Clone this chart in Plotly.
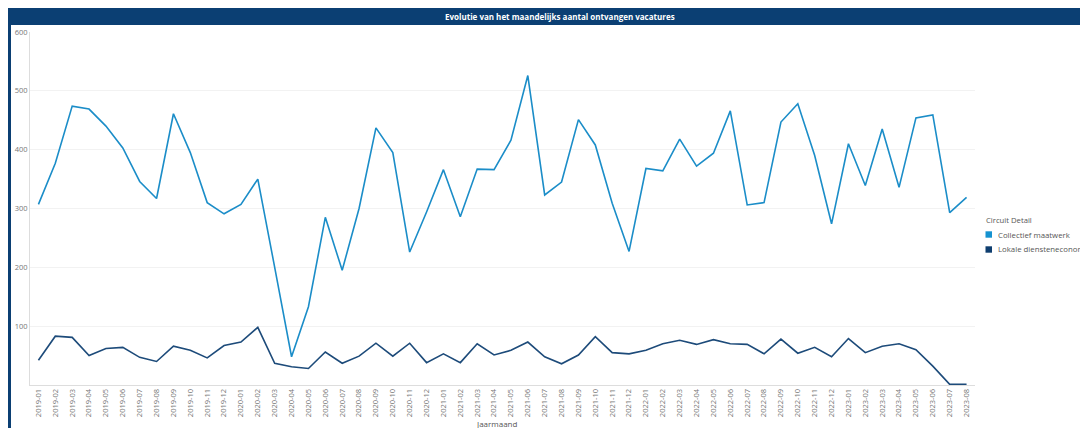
import plotly.graph_objects as go

months = [f"{y}-{m:02d}" for y in range(2019, 2024) for m in range(1, 13)][:56]

collectief = [307, 377, 474, 469, 440, 403, 346, 317, 461, 395, 310, 291,
              307, 350, 200, 48, 133, 285, 195, 300, 437, 395, 226, 294,
              366, 286, 367, 366, 416, 526, 323, 345, 451, 408, 309, 227,
              368, 364, 418, 372, 394, 466, 306, 310, 447, 478, 390, 274,
              410, 339, 435, 336, 454, 459, 293, 319]

lokale = [42, 83, 81, 50, 62, 64, 47, 40, 66, 59, 46, 67,
          73, 98, 37, 31, 28, 56, 37, 49, 71, 49, 71, 38,
          53, 38, 70, 51, 59, 73, 48, 36, 51, 82, 55, 53,
          59, 70, 76, 69, 77, 70, 69, 53, 78, 54, 64, 48,
          79, 55, 66, 70, 60, 32, 1, 1]

series_names = ["Collectief maatwerk", "Lokale diensteneconomie"]
line_colors = ["#1b8dc8", "#1d4b7a"]
legend_colors = ["#1592d0", "#0f3e6f"]

title_text = "Evolutie van het maandelijks aantal ontvangen vacatures"
legend_title = "Circuit Detail"
x_title = "Jaarmaand"
y_ticks = [100, 200, 300, 400, 500, 600]

# page body has an 8px margin, so the figure is 1080x420 inside the 1088x428 window
W, H = 1080, 420
ML, MR, MT, MB = 22, 113, 24, 43
pw, ph = W - ML - MR, H - MT - MB


def px_x(p):
    return (p - ML) / pw


def px_y(p):
    return (H - MB - p) / ph


fig = go.Figure()
for name, vals, lc in zip(series_names, [collectief, lokale], line_colors):
    fig.add_trace(go.Scatter(x=months, y=vals, mode="lines", name=name,
                             line=dict(color=lc, width=1.6), showlegend=False))

font_family = "Open Sans, Segoe UI, sans-serif"

shapes = [
    dict(type="rect", xref="paper", yref="paper",
         x0=px_x(0), x1=px_x(W + 2), y0=px_y(17), y1=px_y(-2),
         fillcolor="#0b3f73", line=dict(width=0), layer="above"),
    dict(type="rect", xref="paper", yref="paper",
         x0=px_x(0), x1=px_x(3), y0=px_y(H + 2), y1=px_y(0),
         fillcolor="#0b3f73", line=dict(width=0), layer="above"),
]
annotations = [
    dict(text="<b>" + title_text + "</b>", xref="paper", yref="paper",
         x=px_x(552), y=px_y(8), xanchor="center", yanchor="middle",
         showarrow=False, font=dict(size=8, color="white", family=font_family)),
    dict(text=legend_title, xref="paper", yref="paper",
         x=px_x(976), y=px_y(212), xanchor="left", yanchor="middle",
         showarrow=False, font=dict(size=7.7, color="#555555", family=font_family)),
    dict(text=x_title, xref="paper", yref="paper",
         x=px_x(489), y=px_y(408), xanchor="center", yanchor="top",
         showarrow=False, font=dict(size=8, color="#555555", family=font_family)),
]
for i, (name, gc) in enumerate(zip(series_names, legend_colors)):
    cy = 226.5 + i * 15
    shapes.append(dict(type="rect", xref="paper", yref="paper",
                       x0=px_x(977.5), x1=px_x(984), y0=px_y(cy + 3.2), y1=px_y(cy - 3.2),
                       fillcolor=gc, line=dict(width=0)))
    annotations.append(dict(text=name, xref="paper", yref="paper",
                            x=px_x(988), y=px_y(cy), xanchor="left", yanchor="middle",
                            showarrow=False,
                            font=dict(size=7.8, color="#555555", family=font_family)))

fig.update_layout(
    width=W, height=H,
    margin=dict(l=ML, r=MR, t=MT, b=MB, autoexpand=False),
    paper_bgcolor="white", plot_bgcolor="white",
    font=dict(family=font_family, size=8, color="#666666"),
    showlegend=False,
    xaxis=dict(type="category", range=[-0.5, 55.5], tickangle=-90,
               tickfont=dict(size=7.5, color="#777777"), showgrid=False,
               showline=True, linecolor="#dddddd", linewidth=1,
               ticks="", automargin=False),
    yaxis=dict(range=[0, 600], tickvals=y_ticks, tickfont=dict(size=7.5, color="#777777"),
               showgrid=True, gridcolor="#f2f2f2", gridwidth=1,
               showline=True, linecolor="#dddddd", zeroline=False,
               ticks="", automargin=False),
    shapes=shapes,
    annotations=annotations,
)

fig.write_html("out.html")
